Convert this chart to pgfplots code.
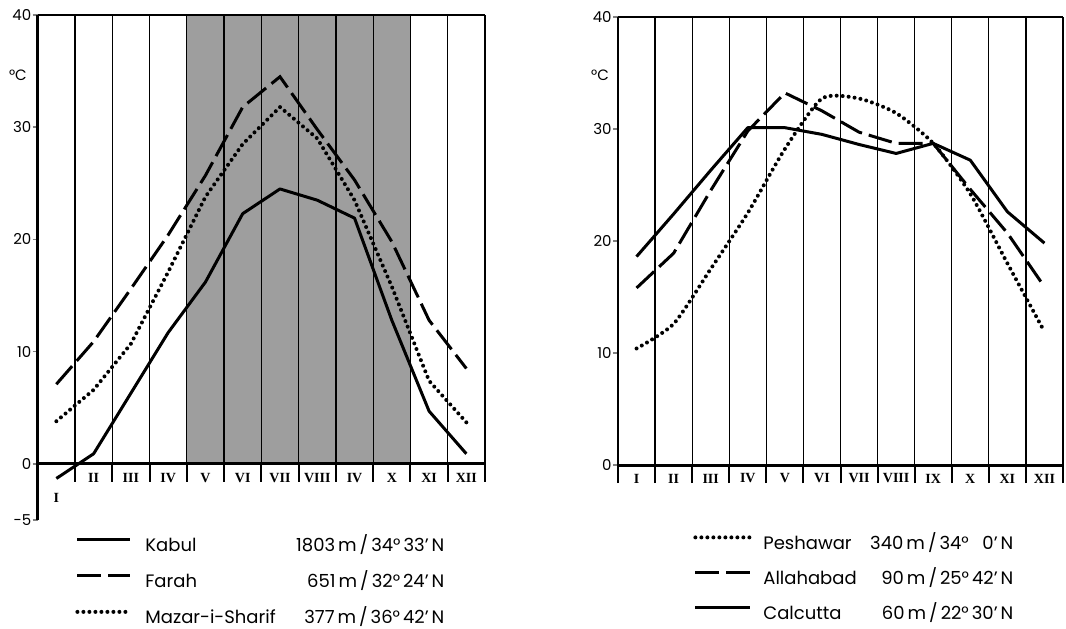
\documentclass[border=0pt]{standalone}
\usepackage{pgfplots}
\pgfplotsset{compat=1.18}
\usepackage{fontspec}
\setmainfont{Poppins}
\newfontfamily\romfont{Liberation Serif}

\tikzset{
  solidln/.style={line width=1.5pt, line join=round},
  dashln/.style={line width=1.5pt, dash pattern=on 12pt off 3.5pt},
  dotln/.style={line width=2pt, line cap=round, dash pattern=on 0pt off 3pt},
  mon/.style={font=\romfont\bfseries\fontsize{7}{8}\selectfont},
}

\pgfplotsset{
  climate/.style={
    scale only axis, clip=false,
    xmin=0.5, xmax=12.5,
    axis x line=none, axis y line*=left,
    y axis line style={line width=1.2pt},
    tick align=outside, major tick length=2.5pt,
    ytick style={line width=0.8pt},
    /pgf/number format/assume math mode=true,
    yticklabel style={font=\fontsize{7.5}{8}\selectfont, inner sep=0.5pt},
    legend cell align=left,
    legend style={draw=none, fill=none, inner sep=0pt, anchor=north west,
      nodes={inner sep=0pt, text height=7pt, text depth=2pt,
        font=\fontsize{9}{10}\selectfont}},
  },
}

\begin{document}
\begin{tikzpicture}
\path[use as bounding box] (0,0) rectangle (533pt,314pt);

% ---------- left: Afghanistan ----------
\begin{axis}[climate,
  at={(18.85pt,54pt)}, anchor=south west,
  width=223.65pt, height=252.5pt,
  ymin=-5, ymax=40, ytick={-5,0,10,20,30,40},
  legend style={at={(0.0834,-0.0346)}, row sep=9pt,
    /tikz/every odd column/.style={column sep=6.5pt}},
  legend image code/.code={\draw[#1] (0pt,3.5pt) -- (26.5pt,3.5pt);},
]
\fill[black!38] (axis cs:4.5,0) rectangle (axis cs:10.5,40);
\pgfplotsinvokeforeach{1.5,2.5,...,11.5}{
  \draw[line width=0.65pt] (axis cs:#1,0) -- (axis cs:#1,40);
  \draw[line width=1pt] (axis cs:#1,-1.6) -- (axis cs:#1,0);
}
\draw[line width=1pt] (axis cs:12.5,-1.6) -- (axis cs:12.5,40);
\draw[line width=1pt] (axis cs:0.5,40) -- (axis cs:12.5,40);
\draw[line width=1.5pt] (axis cs:0.5,0) -- (axis cs:12.5,0);

\addplot[solidln] coordinates {(1,-1.3) (2,0.9) (3,6.3) (4,11.7) (5,16.2) (6,22.3)
  (7,24.5) (8,23.5) (9,21.9) (10,12.8) (11,4.7) (12,0.9)};
\addlegendentry{\makebox[73pt][l]{Kabul}\makebox[76.5pt][r]{1803\,m\,/\,34°\,33'\,N}}
\addplot[dashln] coordinates {(1,7.1) (2,10.9) (3,15.6) (4,20.4) (5,25.7) (6,31.8)
  (7,34.5) (8,29.8) (9,25.3) (10,19.8) (11,12.8) (12,8.5)};
\addlegendentry{\makebox[73pt][l]{Farah}\makebox[76.5pt][r]{651\,m\,/\,32°\,24'\,N}}
\addplot[dotln] coordinates {(1,3.8) (2,6.6) (3,10.7) (4,17.1) (5,23.8) (6,28.5)
  (7,31.8) (8,29.0) (9,23.5) (10,15.8) (11,7.4) (12,3.7)};
\addlegendentry{\makebox[73pt][l]{Mazar-i-Sharif}\makebox[76.5pt][r]{377\,m\,/\,36°\,42'\,N}}

\node[font=\fontsize{7.5}{8}\selectfont] at (axis cs:-0.03,34.6) {°C};
\node[mon] at (axis cs:1,-3.0) {I};
\node[mon] at (axis cs:2,-1.25) {II};
\node[mon] at (axis cs:3,-1.25) {III};
\node[mon] at (axis cs:4,-1.25) {IV};
\node[mon] at (axis cs:5,-1.25) {V};
\node[mon] at (axis cs:6,-1.25) {VI};
\node[mon] at (axis cs:7,-1.25) {VII};
\node[mon] at (axis cs:8,-1.25) {VIII};
\node[mon] at (axis cs:9,-1.25) {IV};
\node[mon] at (axis cs:10,-1.25) {X};
\node[mon] at (axis cs:11,-1.25) {XI};
\node[mon] at (axis cs:12,-1.25) {XII};
\end{axis}

% ---------- right: India / Pakistan ----------
\begin{axis}[climate,
  at={(309pt,72.5pt)}, anchor=south west,
  width=222.5pt, height=233.15pt,
  ymin=-1.6, ymax=40, ytick={0,10,20,30,40},
  legend style={at={(0.1685,-0.1115)}, row sep=8.6pt,
    /tikz/every odd column/.style={column sep=5.5pt}},
  legend image code/.code={\draw[#1] (0pt,3.5pt) -- (27.5pt,3.5pt);},
]
\pgfplotsinvokeforeach{1.5,2.5,...,11.5}{
  \draw[line width=0.65pt] (axis cs:#1,0) -- (axis cs:#1,40);
  \draw[line width=1pt] (axis cs:#1,-1.6) -- (axis cs:#1,0);
}
\draw[line width=1pt] (axis cs:12.5,-1.6) -- (axis cs:12.5,40);
\draw[line width=1pt] (axis cs:0.5,40) -- (axis cs:12.5,40);
\draw[line width=1.5pt] (axis cs:0.5,0) -- (axis cs:12.5,0);

\addplot[dotln, smooth, tension=0.4] coordinates {(1,10.4) (2,12.6) (3,17.5) (4,22.5) (5,28.2) (6,32.7)
  (7,32.7) (8,31.4) (9,28.7) (10,24.2) (11,18.0) (12,11.9)};
\addlegendentry{\makebox[54pt][l]{Peshawar}\makebox[71pt][r]{340\,m\,/\,34°\,\phantom{3}0'\,N}}
\addplot[dashln] coordinates {(1,15.8) (2,18.9) (3,24.5) (4,29.8) (5,33.2) (6,31.6)
  (7,29.7) (8,28.7) (9,28.7) (10,24.6) (11,20.7) (12,15.9)};
\addlegendentry{\makebox[54pt][l]{Allahabad}\makebox[71pt][r]{90\,m\,/\,25°\,42'\,N}}
\addplot[solidln] coordinates {(1,18.6) (2,22.4) (3,26.3) (4,30.1) (5,30.1) (6,29.5)
  (7,28.6) (8,27.8) (9,28.7) (10,27.2) (11,22.6) (12,19.8)};
\addlegendentry{\makebox[54pt][l]{Calcutta}\makebox[71pt][r]{60\,m\,/\,22°\,30'\,N}}

\node[font=\fontsize{7.5}{8}\selectfont] at (axis cs:0.015,34.8) {°C};
\node[mon] at (axis cs:1,-1.2) {I};
\node[mon] at (axis cs:2,-1.2) {II};
\node[mon] at (axis cs:3,-1.2) {III};
\node[mon] at (axis cs:4,-1.2) {IV};
\node[mon] at (axis cs:5,-1.2) {V};
\node[mon] at (axis cs:6,-1.2) {VI};
\node[mon] at (axis cs:7,-1.2) {VII};
\node[mon] at (axis cs:8,-1.2) {VIII};
\node[mon] at (axis cs:9,-1.2) {IX};
\node[mon] at (axis cs:10,-1.2) {X};
\node[mon] at (axis cs:11,-1.2) {XI};
\node[mon] at (axis cs:12,-1.2) {XII};
\end{axis}
\end{tikzpicture}
\end{document}
